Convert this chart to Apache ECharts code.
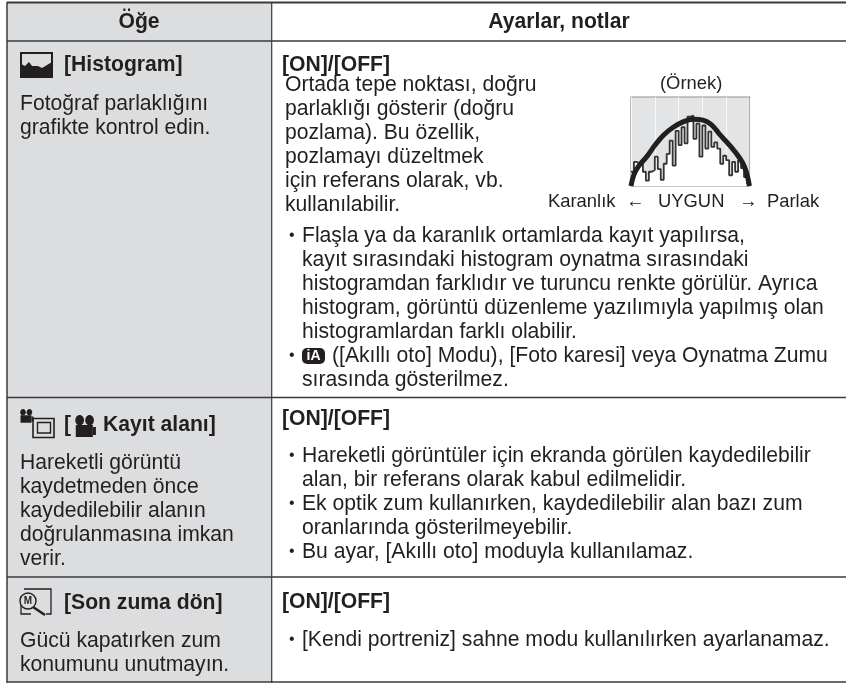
<!DOCTYPE html>
<html>
<head>
<meta charset="utf-8">
<title>Histogram</title>
<style>
html, body { margin: 0; padding: 0; background: #fff; }
#main { width: 846px; height: 684px; }
</style>
<script src="https://cdn.jsdelivr.net/npm/echarts@6/dist/echarts.min.js"></script>
</head>
<body>
<div id="main"></div>
<script>
// histogram outline, one value per brightness bin
const histValues = [16, 27, 25, 27, 16, 6, 16, 18, 33, 19, 7, 25, 36, 51, 23, 62, 46, 66, 48, 78, 79, 53, 70, 33, 68, 42, 61, 44, 49, 42, 25, 34, 29, 12, 27, 16, 29, 20, 10, 3, 0];
// thick curve drawn over it: [bin, level]
const curvePoints = [[0, 0], [0.9, 12], [2.5, 22], [5.3, 33], [8.1, 46], [10.9, 57], [14.2, 66], [17.5, 72], [20.9, 75], [24.2, 74], [27, 69], [29.8, 58], [33.1, 46], [36.4, 32], [38.1, 22], [39.2, 10], [39.8, 0]];

const ink = '#231f20';
const font = '"Liberation Sans", Arial, sans-serif';
const bodySize = 21.15;
const smallSize = 18.4;
const bulletSize = 16;

// [text, x, y]
const boldLines = [
    ['[Histogram]', 64, 65],
    ['[', 64, 425],
    ['Kayıt alanı]', 103, 425],
    ['[Son zuma dön]', 64, 603],
    ['[ON]/[OFF]', 282, 65],
    ['[ON]/[OFF]', 282, 419],
    ['[ON]/[OFF]', 282, 602]
];
const bodyLines = [
    ['Fotoğraf parlaklığını', 20, 104],
    ['grafikte kontrol edin.', 20, 128],
    ['Hareketli görüntü', 20, 463],
    ['kaydetmeden önce', 20, 487],
    ['kaydedilebilir alanın', 20, 511],
    ['doğrulanmasına imkan', 20, 535],
    ['verir.', 20, 559],
    ['Gücü kapatırken zum', 20, 641],
    ['konumunu unutmayın.', 20, 665],
    ['Ortada tepe noktası, doğru', 285, 85],
    ['parlaklığı gösterir (doğru', 285, 109],
    ['pozlama). Bu özellik,', 285, 133],
    ['pozlamayı düzeltmek', 285, 157],
    ['için referans olarak, vb.', 285, 181],
    ['kullanılabilir.', 285, 205],
    ['Flaşla ya da karanlık ortamlarda kayıt yapılırsa,', 302, 236],
    ['kayıt sırasındaki histogram oynatma sırasındaki', 302, 260],
    ['histogramdan farklıdır ve turuncu renkte görülür. Ayrıca', 302, 284],
    ['histogram, görüntü düzenleme yazılımıyla yapılmış olan', 302, 308],
    ['histogramlardan farklı olabilir.', 302, 332],
    ['([Akıllı oto] Modu), [Foto karesi] veya Oynatma Zumu', 332, 356],
    ['sırasında gösterilmez.', 302, 380],
    ['Hareketli görüntüler için ekranda görülen kaydedilebilir', 302, 456],
    ['alan, bir referans olarak kabul edilmelidir.', 302, 480],
    ['Ek optik zum kullanırken, kaydedilebilir alan bazı zum', 302, 504],
    ['oranlarında gösterilmeyebilir.', 302, 528],
    ['Bu ayar, [Akıllı oto] moduyla kullanılamaz.', 302, 552],
    ['[Kendi portreniz] sahne modu kullanılırken ayarlanamaz.', 302, 640]
];
const bulletLines = [
    ['•', 289, 236],
    ['•', 289, 356],
    ['•', 289, 456],
    ['•', 289, 504],
    ['•', 289, 552],
    ['•', 289, 640]
];
const smallLines = [
    ['(Örnek)', 660, 84],
    ['Karanlık', 548, 202],
    ['←', 626, 202],
    ['UYGUN', 658, 202],
    ['→', 739, 202],
    ['Parlak', 767, 202]
];
// horizontal table rules: [y, width]
const rules = [[2.5, 2], [41, 1.5], [397.5, 1.5], [577, 1.5], [682, 1.5]];

function textEl(t, x, y, weight, align, size) {
    return {
        type: 'text', x: x, y: y, silent: true, z: 5,
        style: { text: t, fill: ink, font: weight + ' ' + (size || bodySize) + 'px ' + font, textAlign: align || 'left', textVerticalAlign: 'middle' }
    };
}
function lineEl(x1, y1, x2, y2, w, color) {
    return { type: 'line', z: 4, silent: true, shape: { x1: x1, y1: y1, x2: x2, y2: y2 }, style: { stroke: color || '#3a3a3c', lineWidth: w } };
}
function rectEl(x, y, w, h, fill, stroke, lw, r) {
    return { type: 'rect', z: 4, silent: true, shape: { x: x, y: y, width: w, height: h, r: r || 0 }, style: { fill: fill, stroke: stroke || null, lineWidth: lw || 0 } };
}
function cameraEl(x, y, sx, sy) {
    return [
        { type: 'ellipse', z: 5, silent: true, shape: { cx: x + 3 * sx, cy: y + 2.6 * sy, rx: 2.8 * sx, ry: 2.6 * sy }, style: { fill: ink } },
        { type: 'ellipse', z: 5, silent: true, shape: { cx: x + 9.4 * sx, cy: y + 2.6 * sy, rx: 2.8 * sx, ry: 2.6 * sy }, style: { fill: ink } },
        rectEl(x + 0.5 * sx, y + 5 * sy, 11 * sx, 6 * sy, ink),
        rectEl(x + 11.5 * sx, y + 6 * sy, 2 * sx, 4 * sy, ink)
    ];
}

const graphicEls = [
    rectEl(7, 3, 265, 679, '#dcddde'),
    lineEl(7, 2, 7, 683, 1.5),
    lineEl(271.7, 2, 271.7, 683, 1.2)
];
rules.forEach(function (r) { graphicEls.push(lineEl(7, r[0], 846, r[0], r[1])); });

graphicEls.push(textEl('Öğe', 139, 22, 'bold', 'center'));
graphicEls.push(textEl('Ayarlar, notlar', 559, 22, 'bold', 'center'));
boldLines.forEach(function (l) { graphicEls.push(textEl(l[0], l[1], l[2], 'bold')); });
bodyLines.forEach(function (l) { graphicEls.push(textEl(l[0], l[1], l[2], 'normal')); });
bulletLines.forEach(function (l) { graphicEls.push(textEl(l[0], l[1], l[2], 'normal', 'left', bulletSize)); });
smallLines.forEach(function (l) { graphicEls.push(textEl(l[0], l[1], l[2], 'normal', 'left', smallSize)); });

// histogram icon
graphicEls.push(rectEl(21, 53, 31, 24, 'none', ink, 2));
graphicEls.push({ type: 'polygon', z: 5, silent: true, shape: { points: [[21, 77], [21, 64], [25, 66], [29, 62], [32, 66], [38, 66], [42, 68], [47, 65], [52, 62], [52, 77]] }, style: { fill: ink } });
// movie area icon
cameraEl(20, 409, 1, 1.25).forEach(function (e) { graphicEls.push(e); });
graphicEls.push(rectEl(33, 418.5, 21, 19, 'none', ink, 1.6));
graphicEls.push(rectEl(37.5, 422.5, 13, 10.5, 'none', ink, 1.4));
cameraEl(75, 415, 1.55, 2).forEach(function (e) { graphicEls.push(e); });
// zoom resume icon
graphicEls.push({ type: 'circle', z: 5, silent: true, shape: { cx: 28, cy: 601, r: 8 }, style: { fill: '#dcddde', stroke: ink, lineWidth: 1.4 } });
graphicEls.push(lineEl(33, 607, 45, 615, 2.4, ink));
graphicEls.push({ type: 'polyline', z: 4, silent: true, shape: { points: [[24, 589], [51, 589], [51, 614], [46, 614]] }, style: { fill: 'none', stroke: ink, lineWidth: 1.3 } });
graphicEls.push({ type: 'polyline', z: 4, silent: true, shape: { points: [[21, 596], [21, 614], [31, 614]] }, style: { fill: 'none', stroke: ink, lineWidth: 1.3 } });
graphicEls.push({ type: 'text', x: 28, y: 601, z: 6, silent: true, style: { text: 'M', fill: ink, font: 'bold 10px ' + font, textAlign: 'center', textVerticalAlign: 'middle' } });
// iA badge
graphicEls.push(rectEl(302, 348, 23, 16, ink, null, 0, 5));
graphicEls.push({ type: 'text', x: 313.5, y: 356, z: 6, silent: true, style: { text: 'iA', fill: '#fff', font: 'bold 14px ' + font, textAlign: 'center', textVerticalAlign: 'middle' } });

const myChart = echarts.init(document.getElementById('main'), null, { renderer: 'canvas' });
const option = {
    animation: false,
    backgroundColor: '#fff',
    grid: { left: 631, top: 97, width: 119, height: 89, show: true, backgroundColor: '#e3e4e5', borderColor: '#8f9091', borderWidth: 1.2 },
    xAxis: {
        type: 'value', min: 0, max: 40, interval: 8,
        axisLine: { show: false }, axisTick: { show: false }, axisLabel: { show: false },
        splitLine: { show: true, lineStyle: { color: '#f7f7f7', width: 1 } }
    },
    yAxis: {
        type: 'value', min: 0, max: 100,
        axisLine: { show: false }, axisTick: { show: false }, axisLabel: { show: false }, splitLine: { show: false }
    },
    series: [
        {
            name: 'histogram', type: 'line', step: 'end', symbol: 'none', z: 3,
            data: histValues.map(function (v, i) { return [i, v]; }),
            lineStyle: { color: '#333', width: 1.8 },
            areaStyle: { color: '#fff', opacity: 1 }
        },
        {
            name: 'curve', type: 'line', smooth: 0.4, symbol: 'none', z: 4,
            data: curvePoints,
            lineStyle: { color: ink, width: 5 }
        }
    ],
    graphic: { elements: graphicEls }
};
myChart.setOption(option);
</script>
</body>
</html>
